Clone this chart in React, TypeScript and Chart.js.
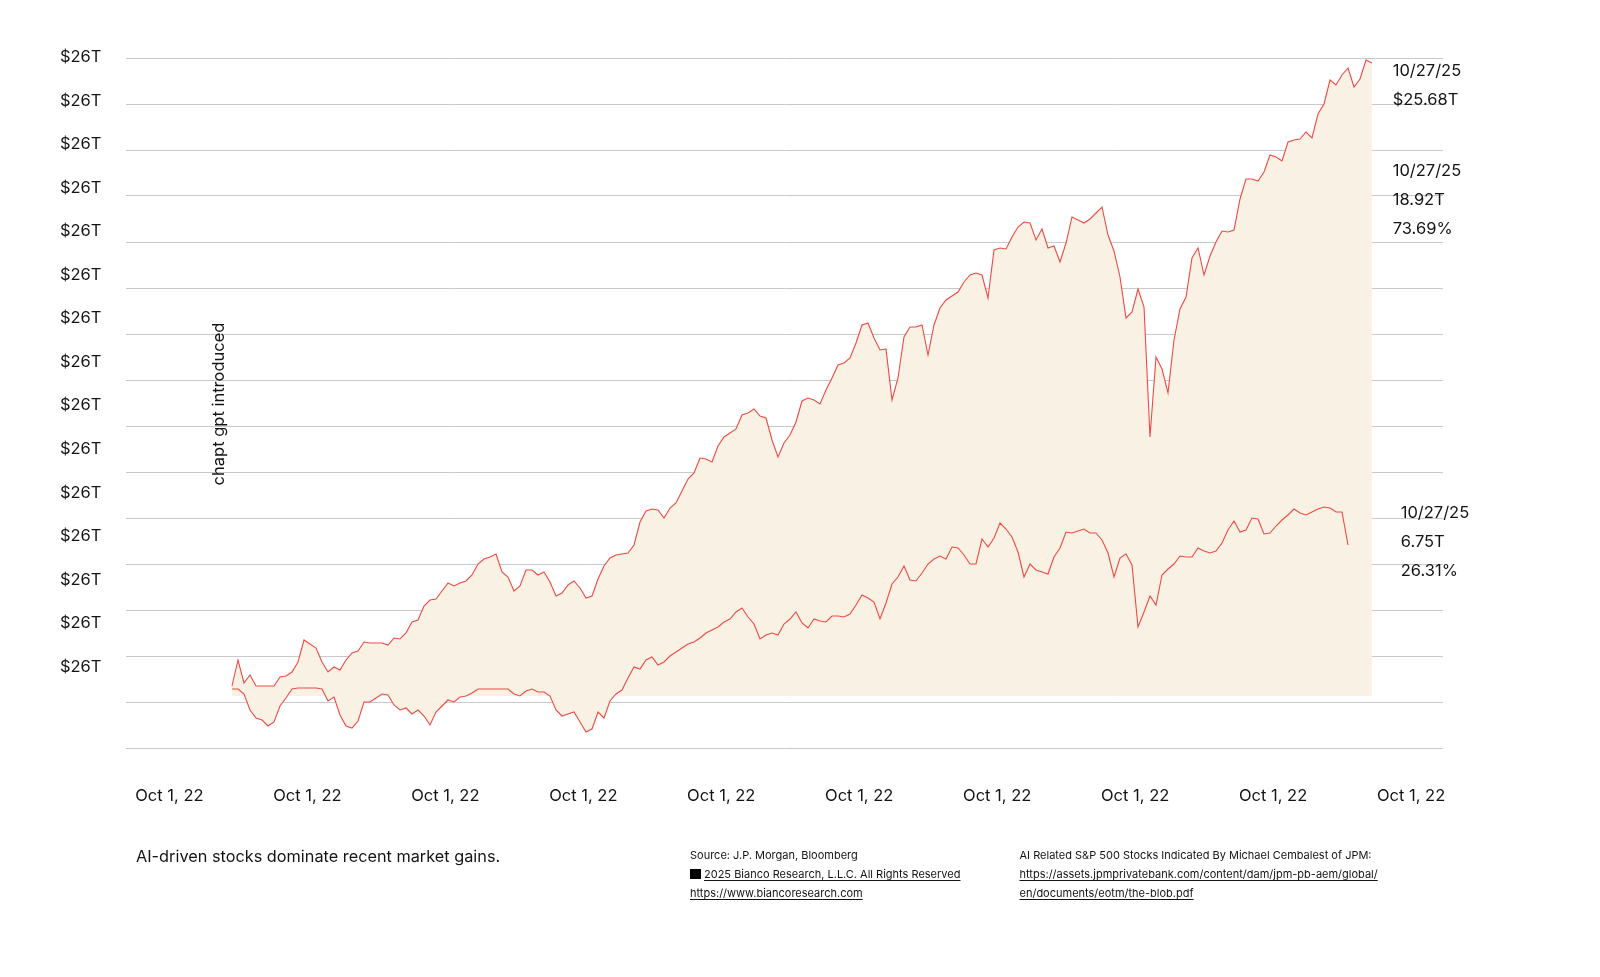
import React, { useEffect, useRef } from 'react';
import { Chart, registerables } from 'chart.js';

Chart.register(...registerables);

// Total market cap line (upper) — one value per trading-interval step
const TOTAL_SERIES = [
  31, 44, 32.5, 36.5, 31, 31, 31, 31, 35.5, 36,
  38, 43, 54, 52, 50, 43, 38, 40.5, 39, 44,
  47.5, 48.5, 53, 52.5, 52.5, 52.5, 51.5, 55, 54.5, 57.5,
  63, 64, 71, 74, 74.5, 78.5, 82.5, 81, 82.5, 83.5,
  86.5, 92, 94.5, 95.5, 97, 88, 85.5, 78.5, 81, 89,
  89, 86.5, 88, 83, 76, 77.5, 81.5, 83.5, 80, 75,
  76, 84.5, 91, 95, 96.5, 97, 97.5, 101.5, 113, 118.5,
  119.5, 119, 115, 120, 122.5, 128.5, 134.5, 137.5, 145, 144.5,
  143, 151, 155.5, 157.5, 159.5, 166.5, 167.5, 169.5, 166, 165,
  154, 145.5, 152.5, 156.5, 163, 173.5, 175, 174, 172, 179,
  185, 191.5, 192.5, 195, 202.5, 211.5, 212.5, 205, 199, 199.5,
  174, 185, 205.5, 210.5, 210.5, 211.5, 196.5, 211.5, 220, 224,
  226, 228, 233, 236.5, 237.5, 236.5, 225, 249, 250, 249.5,
  255.5, 260.5, 263, 262.5, 254, 259.5, 250, 251, 243, 252.5,
  265.5, 264, 262.5, 264.5, 267.5, 270.5, 256.5, 248.5, 235.5, 215,
  218, 229.5, 220.5, 155.5, 195.5, 189.5, 177.5, 204, 219.5, 225.5,
  245, 250, 236.5, 246, 253, 258.5, 258, 259, 274.5, 284.5,
  284.5, 283.5, 288, 296.5, 295.5, 293.5, 303, 304, 304.5, 308,
  305, 317, 322, 334, 331.5, 336.5, 340, 330.5, 334.5, 344, 342.5,
];

// AI-related stocks line (lower)
const AI_SERIES = [
  29.5, 29.5, 27, 19, 15, 14, 11, 13, 21, 25,
  29.5, 30, 30, 30, 30, 29.5, 23.5, 25.5, 16.5, 11,
  10, 13.5, 23, 23, 25, 27, 26.5, 21.5, 19, 20,
  17, 19, 16, 11.5, 18, 21, 24, 23, 25.5, 26,
  27.5, 29.5, 29.5, 29.5, 29.5, 29.5, 29.5, 27, 26, 28.5,
  29.5, 28, 28, 26, 19, 16, 17, 18, 13, 8,
  9.5, 18, 15, 23.5, 27, 29, 35, 40.5, 39.5, 44,
  45.5, 41.5, 43, 46, 48, 50, 52, 53, 55, 57.5,
  59, 60.5, 63, 64.5, 68, 70, 65.5, 62, 54.5, 56.5,
  57.5, 56.5, 62, 64.5, 68, 62.5, 60, 64.5, 63.5, 63,
  66, 66, 65.5, 67, 71.5, 76.5, 75, 73, 64.5, 72.5,
  82, 85.5, 91, 84, 83.5, 87.5, 92, 94.5, 96, 94.5,
  100.5, 100, 96.5, 92, 92, 104.5, 100.5, 105, 112.5, 109.5,
  105.5, 98, 85.5, 92, 89, 88, 87, 95.5, 100, 108,
  107.5, 108.5, 109.5, 107.5, 107.5, 104, 97.5, 85.5, 95, 97,
  91.5, 60.5, 68, 76, 71.5, 86.5, 89.5, 92, 96, 95.5,
  95.5, 100, 98.5, 97.5, 98.5, 102.5, 109, 113.5, 108, 109,
  115, 114.5, 107, 107.5, 111, 114, 116.5, 119.5, 117.5, 116.5,
  118, 119.5, 120.5, 120, 118, 118, 101.5,
];

const FILL_BASE = 26;
const Y_TICK_LABELS = [
  '$26T', '$26T', '$26T', '$26T', '$26T', '$26T', '$26T', '$26T',
  '$26T', '$26T', '$26T', '$26T', '$26T', '$26T', '$26T',
];
const X_TICK_LABELS = [
  'Oct 1, 22', 'Oct 1, 22', 'Oct 1, 22', 'Oct 1, 22', 'Oct 1, 22',
  'Oct 1, 22', 'Oct 1, 22', 'Oct 1, 22', 'Oct 1, 22', 'Oct 1, 22',
];
const TOTAL_END_LABEL = ['10/27/25', '$25.68T'];
const NON_AI_END_LABEL = ['10/27/25', '18.92T', '73.69%'];
const AI_END_LABEL = ['10/27/25', '6.75T', '26.31%'];
const EVENT_LABEL = 'chapt gpt introduced';

const RED = '#ee4a44';
const BEIGE = '#f9f1e4';
const GRID = '#c9c9c9';
const INK = '#141414';
const FONT = 'Inter';

const annotationPlugin = {
  id: 'endLabels',
  afterDraw(chart: any) {
    const { ctx } = chart;
    const xs = chart.scales.x;
    const ys = chart.scales.y;
    ctx.save();
    ctx.fillStyle = INK;
    ctx.font = `16.5px ${FONT}`;
    ctx.textAlign = 'left';
    ctx.textBaseline = 'middle';
    const gap = 28.9;
    const drawBlock = (lines: string[], x: number, y: number) => {
      lines.forEach((t, i) => ctx.fillText(t, x, y + i * gap));
    };
    const lastT = TOTAL_SERIES.length - 1;
    const lastA = AI_SERIES.length - 2;
    drawBlock(TOTAL_END_LABEL, xs.getPixelForValue(lastT) + 20.7, ys.getPixelForValue(TOTAL_SERIES[lastT]) + 8);
    drawBlock(NON_AI_END_LABEL, xs.getPixelForValue(lastT) + 20.7, ys.getPixelForValue(288.3));
    drawBlock(AI_END_LABEL, xs.getPixelForValue(lastA) + 58.7, ys.getPixelForValue(AI_SERIES[lastA]) + 1.5);
    // vertical event label
    ctx.translate(xs.getPixelForValue(-2.17), ys.getPixelForValue(172));
    ctx.rotate(-Math.PI / 2);
    ctx.textAlign = 'center';
    ctx.fillText(EVENT_LABEL, 0, 0);
    ctx.restore();
  },
};

function ChartCanvas() {
  const ref = useRef<HTMLCanvasElement | null>(null);
  useEffect(() => {
    if (!ref.current) return;
    Chart.defaults.font.family = FONT;
    const mk = (arr: number[]) => arr.map((y, i) => ({ x: i, y }));
    const chart = new Chart(ref.current, {
      type: 'line',
      data: {
        datasets: [
          {
            label: 'Total',
            data: mk(TOTAL_SERIES),
            borderColor: RED,
            borderWidth: 1.1,
            pointRadius: 0,
            tension: 0,
            fill: { value: FILL_BASE },
            backgroundColor: BEIGE,
            xAxisID: 'x',
            yAxisID: 'y',
          },
          {
            label: 'AI',
            data: mk(AI_SERIES),
            borderColor: RED,
            borderWidth: 1.1,
            pointRadius: 0,
            tension: 0,
            fill: { value: FILL_BASE },
            backgroundColor: BEIGE,
            xAxisID: 'x',
            yAxisID: 'y',
          },
        ],
      },
      options: {
        responsive: false,
        animation: false,
        events: [],
        layout: { padding: { left: 0, right: 157, top: 58, bottom: 169 } },
        plugins: {
          legend: { display: false },
          tooltip: { enabled: false },
          filler: { drawTime: 'beforeDatasetsDraw' },
        },
        scales: {
          x: { type: 'linear', display: false, min: -17.667, max: 201.833 },
          xl: {
            type: 'linear',
            position: 'bottom',
            min: -0.3146,
            max: 9.2316,
            grid: { display: false, drawTicks: false },
            border: { display: false },
            afterBuildTicks: (a: any) => {
              a.ticks = X_TICK_LABELS.map((_, i) => ({ value: i }));
            },
            afterFit: (a: any) => {
              a.height = 60;
            },
            ticks: {
              autoSkip: false,
              maxRotation: 0,
              padding: 38,
              color: INK,
              font: { size: 16.5, family: FONT },
              callback: (_v: any, i: number) => X_TICK_LABELS[i],
            },
          },
          y: {
            type: 'linear',
            position: 'left',
            min: 0,
            max: 345,
            z: 1,
            afterFit: (a: any) => {
              a.width = 0;
            },
            ticks: { display: false, stepSize: 23 },
            grid: { color: GRID, lineWidth: 1, drawTicks: false },
            border: { display: false },
          },
          yl: {
            type: 'linear',
            position: 'left',
            weight: 1,
            reverse: true,
            min: 0,
            max: 15.84,
            grid: { display: false, drawTicks: false },
            border: { display: false },
            afterBuildTicks: (a: any) => {
              a.ticks = Y_TICK_LABELS.map((_, i) => ({ value: i }));
            },
            afterFit: (a: any) => {
              a.width = 126;
            },
            ticks: {
              autoSkip: false,
              padding: 24.5,
              labelOffset: -1,
              color: INK,
              font: { size: 16.5, family: FONT },
              callback: (_v: any, i: number) => Y_TICK_LABELS[i],
            },
          },
        },
      },
      plugins: [annotationPlugin],
    } as any);
    if ((document as any).fonts && (document as any).fonts.ready) {
      (document as any).fonts.ready.then(() => chart.update('none'));
    }
    return () => chart.destroy();
  }, []);
  return <canvas ref={ref} width={1600} height={977} style={{ display: 'block', width: 1600, height: 977 }} />;
}

const small: React.CSSProperties = {
  position: 'absolute',
  fontFamily: FONT,
  fontSize: 11,
  lineHeight: '19px',
  color: INK,
  whiteSpace: 'nowrap',
};
const link: React.CSSProperties = {
  textDecoration: 'underline',
  textUnderlineOffset: '2px',
  textDecorationThickness: '1px',
};

export default function App() {
  return (
    <div style={{ position: 'absolute', left: 0, top: 0, width: 1600, height: 977, background: '#fff' }}>
      <ChartCanvas />
      <div
        style={{
          position: 'absolute',
          left: 136,
          top: 846,
          fontFamily: FONT,
          fontSize: 16.3,
          lineHeight: '20px',
          color: INK,
          whiteSpace: 'nowrap',
        }}
      >
        AI-driven stocks dominate recent market gains.
      </div>
      <div style={{ ...small, left: 690, top: 846 }}>
        <div>Source: J.P. Morgan, Bloomberg</div>
        <div style={link}>
          <span
            style={{
              display: 'inline-block',
              width: 11,
              height: 10,
              background: '#000',
              marginRight: 3,
              verticalAlign: '-1px',
            }}
          />
          2025 Bianco Research, L.L.C. All Rights Reserved
        </div>
        <div style={link}>https://www.biancoresearch.com</div>
      </div>
      <div style={{ ...small, left: 1019.5, top: 846 }}>
        <div>AI Related S&amp;P 500 Stocks Indicated By Michael Cembalest of JPM:</div>
        <div style={link}>https://assets.jpmprivatebank.com/content/dam/jpm-pb-aem/global/</div>
        <div style={link}>en/documents/eotm/the-blob.pdf</div>
      </div>
    </div>
  );
}
